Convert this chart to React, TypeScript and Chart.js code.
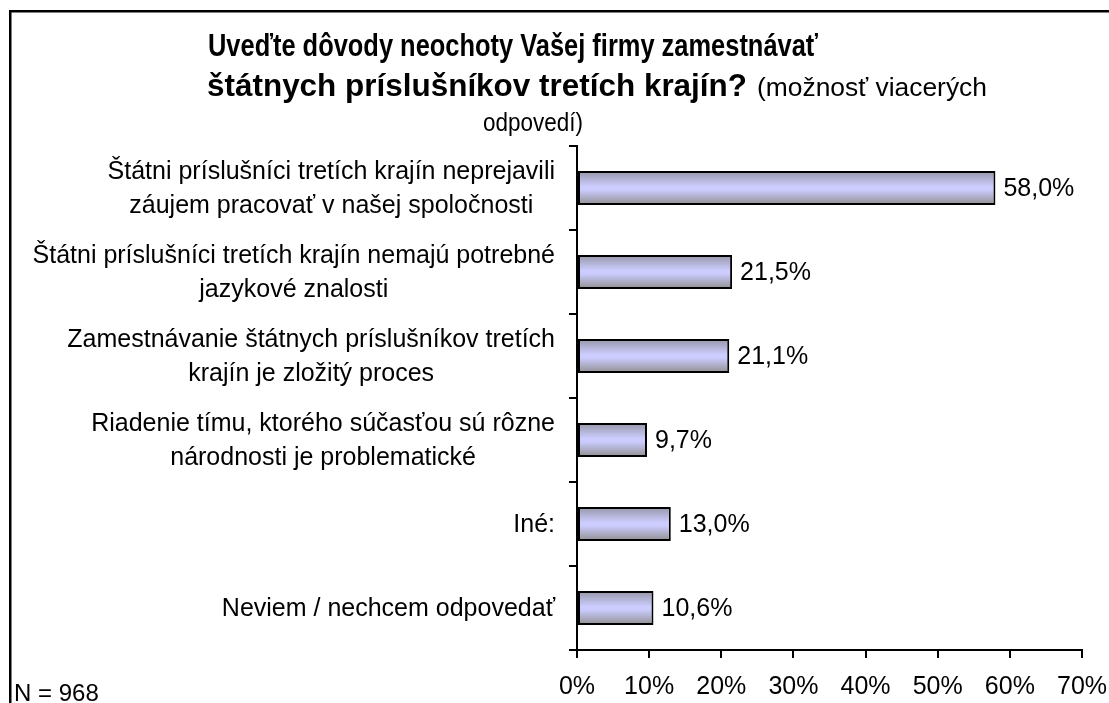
import React, { useEffect, useRef } from "react";
import { Chart, registerables } from "chart.js";

Chart.register(...registerables);

const categoryLines: string[][] = [
  ["Štátni príslušníci tretích krajín neprejavili", "záujem pracovať v našej spoločnosti"],
  ["Štátni príslušníci tretích krajín nemajú potrebné", "jazykové znalosti"],
  ["Zamestnávanie štátnych príslušníkov tretích", "krajín je zložitý proces"],
  ["Riadenie tímu, ktorého súčasťou sú rôzne", "národnosti je problematické"],
  ["Iné:"],
  ["Neviem / nechcem odpovedať"],
];
const values: number[] = [58.0, 21.5, 21.1, 9.7, 13.0, 10.6];
const xMin = 0;
const xMax = 70;
const xStep = 10;

const titleLine1 = "Uveďte dôvody neochoty Vašej firmy zamestnávať";
const titleLine2Bold = "štátnych príslušníkov tretích krajín?";
const titleLine2Normal = "(možnosť viacerých";
const titleLine3 = "odpovedí)";
const footnote = "N = 968";

const FONT = "'Liberation Sans', Arial, Helvetica, sans-serif";
const BAR_PCT = 0.405;

function fmt(v: number): string {
  return v.toFixed(1).replace(".", ",") + "%";
}

function drawFitted(ctx: CanvasRenderingContext2D, text: string, x: number, y: number, font: string, width: number) {
  ctx.save();
  ctx.font = font;
  const w = ctx.measureText(text).width;
  const sx = width / w;
  ctx.translate(x, y);
  ctx.scale(sx, 1);
  ctx.textAlign = "left";
  ctx.textBaseline = "alphabetic";
  ctx.fillText(text, 0, 0);
  ctx.restore();
}

const framePlugin = {
  id: "frame",
  beforeDraw(chart: any) {
    const ctx = chart.ctx as CanvasRenderingContext2D;
    ctx.save();
    ctx.fillStyle = "#ffffff";
    ctx.fillRect(0, 0, chart.width, chart.height);
    ctx.fillStyle = "#000000";
    ctx.fillRect(9, 10, chart.width - 9, 2.5);
    ctx.fillRect(9, 10, 2.5, chart.height - 10);
    ctx.restore();
  },
  afterDraw(chart: any) {
    const ctx = chart.ctx as CanvasRenderingContext2D;
    ctx.save();
    ctx.fillStyle = "#000000";
    drawFitted(ctx, titleLine1, 208, 56, `bold 32px ${FONT}`, 610);
    drawFitted(ctx, titleLine2Bold, 207, 96, `bold 32px ${FONT}`, 540);
    drawFitted(ctx, titleLine2Normal, 757, 96, `26px ${FONT}`, 230);
    drawFitted(ctx, titleLine3, 483, 131, `26px ${FONT}`, 100);
    ctx.font = `24px ${FONT}`;
    ctx.textAlign = "left";
    ctx.textBaseline = "alphabetic";
    ctx.fillText(footnote, 14, 701);
    ctx.restore();
  },
};

function barGradient(c: any) {
  const chart = c.chart;
  const yScale = chart.scales && chart.scales.y;
  if (!yScale || !chart.chartArea || c.dataIndex === undefined) return "#ccccff";
  const cy = yScale.getPixelForValue(c.dataIndex);
  const half = ((yScale.height / values.length) * BAR_PCT) / 2;
  const g = chart.ctx.createLinearGradient(0, cy - half, 0, cy + half);
  g.addColorStop(0, "#9595a6");
  g.addColorStop(0.45, "#ccccff");
  g.addColorStop(0.55, "#ccccff");
  g.addColorStop(1, "#8f8f8f");
  return g;
}

const labelsPlugin = {
  id: "labels",
  afterDatasetsDraw(chart: any) {
    const ctx = chart.ctx as CanvasRenderingContext2D;
    const meta = chart.getDatasetMeta(0);
    const yScale = chart.scales.y;
    ctx.save();
    ctx.fillStyle = "#000000";
    ctx.font = `25px ${FONT}`;
    ctx.textAlign = "left";
    ctx.textBaseline = "middle";
    meta.data.forEach((el: any, i: number) => {
      ctx.fillText(fmt(values[i]), el.x + 8, el.y + 1);
    });
    ctx.font = `25px ${FONT}`;
    const lineH = 34;
    const rightEdge = yScale.right - 22;
    categoryLines.forEach((lines, i) => {
      const cy = yScale.getPixelForValue(i);
      const widths = lines.map((l) => ctx.measureText(l).width);
      const blockW = Math.max(...widths);
      const cx = rightEdge - blockW / 2;
      ctx.textAlign = "center";
      lines.forEach((l, j) => {
        const y = cy + (j - (lines.length - 1) / 2) * lineH + 1;
        ctx.fillText(l, cx, y);
      });
    });
    ctx.restore();
  },
};

export default function App() {
  const ref = useRef<HTMLCanvasElement | null>(null);
  useEffect(() => {
    if (!ref.current) return;
    const chart = new Chart(ref.current, {
      type: "bar",
      data: {
        labels: categoryLines.map((l) => l.join(" ")),
        datasets: [
          {
            data: values,
            backgroundColor: barGradient,
            borderColor: "#000000",
            borderWidth: 2,
            borderSkipped: false,
            barPercentage: BAR_PCT,
            categoryPercentage: 1,
          },
        ],
      },
      options: {
        indexAxis: "y",
        animation: false,
        responsive: false,
        maintainAspectRatio: false,
        layout: { padding: { top: 146, right: 27, left: 0, bottom: 0 } },
        plugins: {
          legend: { display: false },
          tooltip: { enabled: false },
          title: { display: false },
        },
        scales: {
          x: {
            type: "linear",
            min: xMin,
            max: xMax,
            afterFit: (s: any) => {
              s.height = 53;
              s.paddingLeft = 0;
              s.paddingRight = 0;
            },
            ticks: {
              stepSize: xStep,
              color: "#000000",
              font: { family: FONT, size: 25 },
              padding: 14,
              callback: (v: any) => `${v}%`,
            },
            grid: {
              display: true,
              drawOnChartArea: false,
              drawTicks: true,
              tickLength: 8,
              color: "#000000",
              lineWidth: 2,
            },
            border: { display: true, color: "#000000", width: 2 },
          },
          y: {
            type: "category",
            afterFit: (s: any) => {
              s.width = 577;
              s.paddingTop = 0;
              s.paddingBottom = 0;
            },
            ticks: { display: false },
            grid: {
              display: true,
              offset: true,
              drawOnChartArea: false,
              drawTicks: true,
              tickLength: 8,
              color: "#000000",
              lineWidth: 2,
            },
            border: { display: true, color: "#000000", width: 2 },
          },
        },
      },
      plugins: [framePlugin, labelsPlugin],
    });
    return () => chart.destroy();
  }, []);
  return (
    <canvas
      ref={ref}
      width={1109}
      height={703}
      style={{ position: "fixed", left: 0, top: 0, width: 1109, height: 703 }}
    />
  );
}
